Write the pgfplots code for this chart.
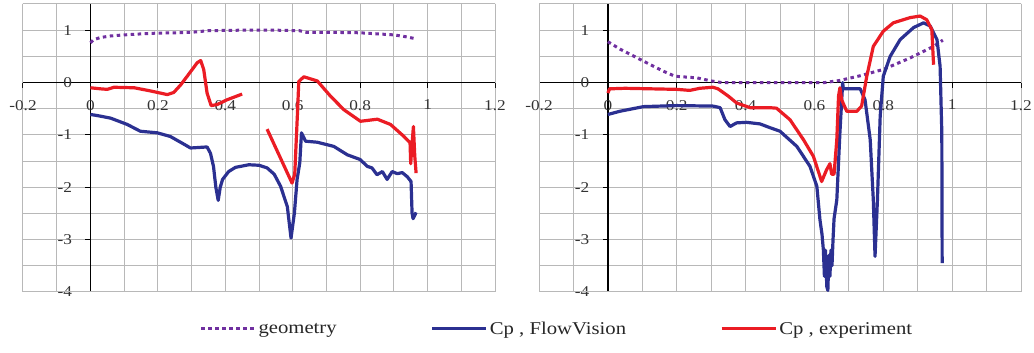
\documentclass[border=0pt]{standalone}
\usepackage{fontspec}
\setmainfont{Liberation Serif}[FakeStretch=1.15]
\usepackage{pgfplots}
\pgfplotsset{compat=1.18}
\definecolor{geo}{RGB}{112,48,160}
\definecolor{fv}{RGB}{43,48,145}
\definecolor{ex}{RGB}{235,28,36}
\pgfplotsset{
  cpstyle/.style={
    scale only axis, height=288pt,
    xmin=-0.2, xmax=1.2, ymin=-4, ymax=1.5,
    axis lines=middle,
    axis line style={black, line width=1.4pt, -},
    every inner x axis line/.append style={-},
    every inner y axis line/.append style={-},
    hide obscured x ticks=false, hide obscured y ticks=false,
    xtick={-0.2,0,0.2,0.4,0.6,0.8,1,1.2},
    xticklabels={-0.2,0,0.2,0.4,0.6,0.8,1,1.2},
    ytick={-4,-3,-2,-1,0,1},
    yticklabels={-4,-3,-2,-1,0,1},
    minor xtick={-0.1,0.1,0.3,0.5,0.7,0.9,1.1},
    minor ytick={-3.5,-2.5,-1.5,-0.5,0.5,1.5},
    grid=both,
    grid style={black!28, line width=1pt},
    minor grid style={black!28, line width=1pt},
    tick align=outside, major tick length=5pt, minor tick length=0pt,
    tick style={black, line width=1pt},
    xticklabel style={font=\fontsize{15}{18}\selectfont, yshift=-9pt, text=black!80},
    yticklabel style={font=\fontsize{15}{18}\selectfont, xshift=-10pt, text=black!80},
    unbounded coords=jump,
    clip=true,
  },
  geostyle/.style={geo, line width=3pt, dash pattern=on 3.5pt off 3.5pt},
  fvstyle/.style={fv, line width=3.2pt, line join=round},
  exstyle/.style={ex, line width=3.2pt, line join=round},
}
\begin{document}
\begin{tikzpicture}
\useasboundingbox (0,0) rectangle (1034pt,353pt);
% ---------------- left panel
\begin{axis}[cpstyle, width=472pt, at={(23pt,61pt)}, anchor=south west,
  legend columns=3,
  legend style={at={(1.131,-0.128)}, anchor=center, draw=none, fill=none,
    font=\fontsize{18}{21}\selectfont, text=black!85,
    /tikz/every odd column/.append style={column sep=0pt},
    /tikz/every even column/.append style={column sep=92pt}},
  legend image code/.code={\draw[#1] (0pt,0pt) -- (54pt,0pt);},
]
\draw[black!28, line width=1pt] (rel axis cs:0,0) rectangle (rel axis cs:1,1);
\addplot[geostyle] coordinates {
(0,0.76) (0.01,0.82) (0.03,0.86) (0.06,0.89) (0.1,0.91) (0.18,0.94) (0.25,0.95) (0.3,0.96) (0.35,0.99) (0.45,1.0) (0.55,1.0) (0.62,0.99) (0.64,0.96) (0.7,0.96) (0.8,0.95) (0.85,0.93) (0.9,0.91) (0.94,0.87) (0.965,0.835)
};
\addlegendentry{geometry}
\addplot[fvstyle] coordinates {
(0,-0.61) (0.02,-0.63) (0.06,-0.68) (0.109,-0.80) (0.148,-0.93) (0.198,-0.96) (0.237,-1.03) (0.27,-1.15) (0.297,-1.25) (0.346,-1.23) (0.356,-1.35) (0.365,-1.6) (0.372,-2.0) (0.379,-2.25) (0.385,-2.0) (0.392,-1.85) (0.41,-1.7) (0.43,-1.62) (0.47,-1.57) (0.5,-1.58) (0.524,-1.63) (0.545,-1.75) (0.564,-1.98) (0.584,-2.37) (0.595,-2.97) (0.605,-2.49) (0.613,-1.85) (0.621,-1.53) (0.626,-0.96) (0.638,-1.12) (0.673,-1.14) (0.722,-1.22) (0.762,-1.38) (0.80,-1.47) (0.821,-1.6) (0.835,-1.63) (0.85,-1.76) (0.866,-1.70) (0.88,-1.85) (0.895,-1.70) (0.91,-1.74) (0.925,-1.72) (0.94,-1.80) (0.951,-1.89) (0.954,-2.49) (0.957,-2.6) (0.966,-2.48)
};
\addlegendentry{Cp , FlowVision}
\addplot[exstyle] coordinates {
(0,-0.10) (0.03,-0.12) (0.05,-0.13) (0.07,-0.09) (0.13,-0.10) (0.178,-0.16) (0.228,-0.23) (0.247,-0.19) (0.267,-0.05) (0.287,0.12) (0.317,0.38) (0.327,0.42) (0.336,0.25) (0.346,-0.20) (0.358,-0.44) (0.376,-0.42) (0.405,-0.33) (0.45,-0.22)
(0.48,nan)
(0.524,-0.89) (0.598,-1.92) (0.606,-1.75) (0.614,-0.6) (0.618,0.02) (0.633,0.11) (0.673,0.03) (0.712,-0.26) (0.752,-0.52) (0.801,-0.74) (0.851,-0.70) (0.89,-0.80) (0.93,-1.03) (0.948,-1.15) (0.950,-1.55) (0.953,-1.25) (0.958,-0.84) (0.962,-1.4) (0.966,-1.73)
};
\addlegendentry{Cp , experiment}
\end{axis}
% ---------------- right panel
\begin{axis}[cpstyle, width=482pt, at={(539pt,61pt)}, anchor=south west]
\draw[black!28, line width=1pt] (rel axis cs:0,0) rectangle (rel axis cs:1,1);
\addplot[geostyle] coordinates {
(0,0.78) (0.035,0.64) (0.103,0.41) (0.16,0.22) (0.195,0.12) (0.258,0.09) (0.301,0.03) (0.33,0.0) (0.63,0.0) (0.674,0.04) (0.733,0.13) (0.80,0.25) (0.878,0.47) (0.946,0.69) (0.973,0.81)
};
\addplot[fvstyle] coordinates {
(0,-0.61) (0.034,-0.55) (0.103,-0.46) (0.2,-0.44) (0.306,-0.45) (0.326,-0.48) (0.34,-0.71) (0.355,-0.84) (0.374,-0.77) (0.403,-0.76) (0.442,-0.79) (0.47,-0.86) (0.5,-0.93) (0.549,-1.22) (0.587,-1.60) (0.607,-1.98) (0.616,-2.62) (0.622,-2.9) (0.626,-3.2) (0.629,-3.7) (0.632,-3.2) (0.636,-3.9) (0.639,-3.97) (0.642,-3.3) (0.645,-3.7) (0.648,-3.2) (0.651,-3.5) (0.654,-3.0) (0.657,-2.6) (0.665,-2.24) (0.674,-0.96) (0.682,0.0) (0.684,-0.12) (0.733,-0.12) (0.747,-0.33) (0.762,-1.09) (0.771,-2.24) (0.776,-3.32) (0.783,-2.24) (0.791,-0.64) (0.80,0.12) (0.82,0.50) (0.849,0.82) (0.888,1.05) (0.917,1.14) (0.936,1.08) (0.956,0.82) (0.965,0.31) (0.97,-0.96) (0.971,-3.45)
};
\addplot[exstyle] coordinates {
(0,-0.2) (0.005,-0.12) (0.05,-0.11) (0.2,-0.13) (0.238,-0.15) (0.267,-0.11) (0.305,-0.09) (0.32,-0.12) (0.35,-0.26) (0.374,-0.39) (0.413,-0.48) (0.47,-0.48) (0.49,-0.49) (0.529,-0.71) (0.568,-1.09) (0.597,-1.41) (0.621,-1.89) (0.635,-1.67) (0.645,-1.55) (0.65,-1.75) (0.657,-1.75) (0.665,-1.09) (0.67,-0.26) (0.674,-0.10) (0.679,-0.33) (0.694,-0.55) (0.723,-0.55) (0.737,-0.45) (0.752,0.12) (0.771,0.69) (0.80,0.98) (0.829,1.14) (0.878,1.24) (0.907,1.27) (0.926,1.20) (0.941,1.01) (0.946,0.34)
};
\end{axis}
\end{tikzpicture}
\end{document}
